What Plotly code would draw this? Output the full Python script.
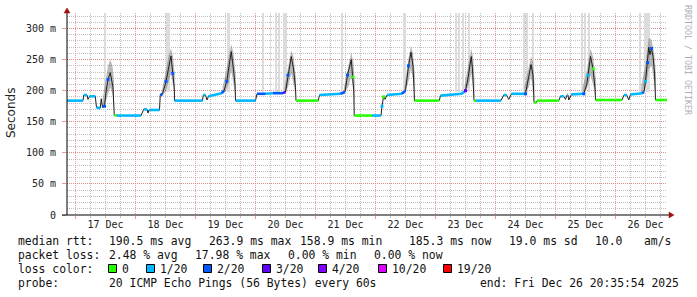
import plotly.graph_objects as go

# ---------------- data (hours since 17 Dec 2025 00:00) ----------------
hours = [-3.4, 3.0, 3.3, 4.6, 5.0, 5.6, 7.9, 8.4, 9.9, 10.3, 10.8, 11.6, 12.2, 13.0, 13.9, 15.0, 15.5, 16.5,
         26.2, 27.3, 28.6, 29.0, 29.4, 33.6, 33.9, 34.8, 36.2, 37.3, 38.2, 38.9, 39.5, 39.6,
         50.8, 51.1, 52.0, 52.6, 53.2, 58.5, 59.4, 60.5, 61.3, 62.3, 63.3, 63.8, 64.0,
         72.0, 72.6, 76.0, 79.0, 83.0, 84.0, 85.0, 86.3, 87.2, 88.0, 88.2,
         97.1, 97.6, 106.0, 107.8, 108.8, 110.3, 110.9, 111.3, 111.5, 118.6,
         122.2, 122.6, 123.2, 123.8, 124.6, 130.5, 132.0, 133.2, 134.2, 135.0, 135.4, 135.6,
         145.5, 146.0, 154.5, 156.0, 157.0, 158.3, 158.8, 159.2, 159.4, 160.2,
         170.2, 171.3, 172.4, 173.3, 174.4, 180.0, 181.3, 182.2, 183.0, 183.4, 184.4, 184.6,
         193.3, 194.0, 195.3, 196.0, 196.6, 197.0, 197.3, 198.4, 203.3, 204.5, 205.0, 206.0, 207.0, 207.8, 208.0,
         218.6, 219.4, 220.5, 221.3, 222.0, 226.7, 227.4, 228.0, 228.8, 229.3, 229.8, 230.4, 231.0, 231.6, 232.0, 236.6]
median_ms = [184, 184, 193, 193, 186, 191, 191, 173, 172, 187, 173, 175, 198, 218, 229, 205, 161, 160,
             160, 170, 170, 164, 169, 169, 193, 195, 215, 240, 256, 228, 205, 184,
             184, 193, 193, 185, 191, 196, 200, 215, 235, 263, 230, 210, 184,
             184, 195, 195, 196, 196, 198, 225, 255, 235, 205, 184,
             184, 193, 195, 198, 225, 250, 222, 200, 160, 160,
             160, 175, 190, 186, 193, 195, 200, 240, 262, 240, 210, 184,
             184, 192, 195, 200, 220, 255, 235, 200, 184, 184,
             184, 193, 193, 186, 195, 195, 220, 242, 225, 181, 181, 184,
             184, 191, 191, 186, 193, 193, 185, 194, 195, 210, 225, 255, 235, 205, 185,
             185, 193, 193, 185, 194, 196, 198, 215, 245, 270, 258, 268, 255, 230, 185, 185]
# loss level of the segment starting at each point (-1: no loss colour drawn)
loss_lvl = [1, -1, 1, -1, -1, 1, -1, 1, -1, -1, -1, 2, -1, 2, -1, -1, 0, 1,
            -1, 1, -1, -1, 1, -1, 2, -1, 2, -1, -1, 2, -1, 1,
            -1, 1, -1, -1, 1, 2, -1, 2, -1, -1, -1, -1, 1,
            -1, 2, 1, 2, 3, -1, 2, -1, -1, -1, 0,
            -1, 1, 2, -1, 2, -1, 0, -1, 0, 1,
            -1, 1, 0, -1, 1, 2, -1, 2, -1, -1, -1, 0,
            -1, 1, 1, 3, -1, -1, -1, -1, 0, 1,
            -1, 1, -1, -1, 1, 2, -1, -1, -1, 0, -1, 0,
            -1, 1, -1, -1, 1, -1, -1, 1, 2, -1, 1, -1, 0, -1, 0,
            -1, 1, -1, -1, 1, 2, -1, 1, 2, -1, -1, 2, -1, -1, 0, 0]

# smoke around daily peaks (None separates peaks)
smoke_h = [10.8, 12.0, 13.0, 13.9, 14.8, 15.4, None,
           34.5, 36.0, 37.3, 38.2, 39.0, 39.7, None,
           58.8, 60.3, 61.4, 62.3, 63.2, 64.1, None,
           83.6, 85.0, 86.3, 87.2, 88.2, None,
           107.4, 109.0, 110.3, 111.2, 111.7, None,
           131.6, 133.2, 134.2, 135.0, 135.8, None,
           155.6, 157.0, 158.3, 159.0, 159.6, None,
           179.6, 181.3, 182.2, 183.0, 183.6, None,
           202.9, 204.5, 206.0, 207.0, 208.2, None,
           226.3, 228.0, 229.3, 230.4, 231.6, 232.2]
smoke_lo = [175, 180, 195, 205, 195, 170, None,
            190, 198, 215, 228, 210, 190, None,
            195, 200, 215, 232, 212, 190, None,
            196, 205, 228, 212, 190, None,
            196, 205, 222, 200, 175, None,
            196, 215, 235, 218, 188, None,
            197, 205, 228, 210, 188, None,
            196, 205, 222, 205, 182, None,
            196, 202, 225, 210, 188, None,
            196, 205, 235, 240, 210, 188]
smoke_hi = [185, 215, 240, 250, 240, 215, None,
            200, 228, 258, 268, 255, 225, None,
            205, 232, 258, 275, 260, 225, None,
            206, 240, 265, 255, 220, None,
            206, 240, 262, 245, 215, None,
            206, 252, 272, 260, 222, None,
            208, 238, 268, 255, 218, None,
            206, 235, 255, 245, 212, None,
            206, 232, 268, 255, 218, None,
            208, 242, 285, 282, 258, 222]

# single pings off the scale (light gray columns)
spike_h = [11.8, 36.8, 61.0, 75.0, 78.0, 80.3, 81.3, 83.5, 84.2, 106.5, 131.5, 152.3, 153.3, 155.0,
           157.4, 179.5, 180.6, 183.0, 202.5, 203.9, 205.6, 225.7, 228.6]
spike_w = [1.0, 1.6, 1.2, 0.4, 0.4, 0.4, 0.4, 0.5, 0.4, 1.0, 1.2, 0.4, 0.4, 0.9,
           1.0, 0.4, 0.4, 0.4, 0.9, 0.7, 0.6, 0.4, 2.6]

day_ticks = [12, 36, 60, 84, 108, 132, 156, 180, 204, 228]
day_labels = ["17 Dec", "18 Dec", "19 Dec", "20 Dec", "21 Dec", "22 Dec", "23 Dec", "24 Dec", "25 Dec", "26 Dec"]
y_ticks = [0, 50, 100, 150, 200, 250, 300]
y_labels = ["0", "50 m", "100 m", "150 m", "200 m", "250 m", "300 m"]

loss_levels = [0, 1, 2, 3, 4, 10, 19]
loss_names = ["0", "1/20", "2/20", "3/20", "4/20", "10/20", "19/20"]
loss_colors = ["#26ff00", "#00b8ff", "#0059ff", "#5e00ff", "#7e00ff", "#dd00ff", "#ff0000"]

stats_line1 = ["median rtt:", "190.5 ms avg", "263.9 ms max", "158.9 ms min", "185.3 ms now", "19.0 ms sd", "10.0", "am/s"]
stats_line2 = ["packet loss:", "2.48 % avg", "17.98 % max", "0.00 % min", "0.00 % now"]
probe_text = ["probe:", "20 ICMP Echo Pings (56 Bytes) every 60s", "end: Fri Dec 26 20:35:54 2025"]

# ---------------- layout geometry ----------------
W, H = 697, 297
L, R, T, B = 67, 30, 13, 82
PW, PH = W - L - R, H - T - B
X0, X1 = -3.4, 236.6
Y0, Y1 = 0, 325
PX_PER_H = PW / (X1 - X0)
PX_PER_MS = PH / (Y1 - Y0)


def px(x):
    return (x - L) / PW


def py(y):
    return (H - B - y) / PH


MONO = "DejaVu Sans Mono"
fig = go.Figure()

# spikes
top = Y1 + 10
spike_base = 198
fig.add_trace(go.Bar(x=spike_h, y=[top - spike_base] * len(spike_h), base=spike_base, width=spike_w,
                     marker=dict(color="#dcdcdc", line=dict(width=0)), xaxis="x", yaxis="y",
                     hoverinfo="skip", showlegend=False))

# smoke polygons
sx, sy = [], []
seg_h, seg_lo, seg_hi = [], [], []
for h, lo, hi in list(zip(smoke_h, smoke_lo, smoke_hi)) + [(None, None, None)]:
    if h is None:
        if seg_h:
            sx += seg_h + seg_h[::-1] + [None]
            sy += seg_hi + seg_lo[::-1] + [None]
        seg_h, seg_lo, seg_hi = [], [], []
    else:
        seg_h.append(h); seg_lo.append(lo); seg_hi.append(hi)
fig.add_trace(go.Scatter(x=sx, y=sy, fill="toself", fillcolor="rgba(90,90,90,0.42)",
                         line=dict(width=0), mode="lines", hoverinfo="skip", showlegend=False))

# black median line
fig.add_trace(go.Scatter(x=hours, y=median_ms, mode="lines", line=dict(color="#202020", width=1),
                         xaxis="x2", yaxis="y", hoverinfo="skip", showlegend=False))

# loss coloured median: flat segments as thick strokes, steep ones as small blocks
for lvl, col in zip(loss_levels, loss_colors):
    xs, ys, mx, my = [], [], [], []
    for i in range(len(hours) - 1):
        if loss_lvl[i] != lvl:
            continue
        dx = (hours[i + 1] - hours[i]) * PX_PER_H
        dy = abs(median_ms[i + 1] - median_ms[i]) * PX_PER_MS
        if dy > 1.5 * dx:
            mx.append(hours[i]); my.append(median_ms[i])
        else:
            xs += [hours[i], hours[i + 1], None]
            ys += [median_ms[i], median_ms[i + 1], None]
    if xs:
        fig.add_trace(go.Scatter(x=xs, y=ys, mode="lines", line=dict(color=col, width=2.6),
                                 xaxis="x2", yaxis="y", hoverinfo="skip", showlegend=False))
    if mx:
        fig.add_trace(go.Scatter(x=mx, y=my, mode="markers",
                                 marker=dict(color=col, size=3, symbol="square", line=dict(width=0)),
                                 xaxis="x2", yaxis="y", hoverinfo="skip", showlegend=False))

RED_GRID = "rgba(230,120,120,0.75)"
GRAY_GRID = "rgba(170,170,170,0.75)"
fig.update_layout(
    width=W, height=H, margin=dict(l=L, r=R, t=T, b=B, pad=0),
    paper_bgcolor="white", plot_bgcolor="white", showlegend=False,
    font=dict(family=MONO, size=10, color="#222"),
    bargap=0,
    xaxis=dict(range=[X0, X1], tickmode="linear", tick0=0, dtick=24, showticklabels=False,
               showgrid=True, gridcolor=RED_GRID, griddash="1px,1px", gridwidth=1,
               ticks="outside", ticklen=3, tickcolor=RED_GRID, zeroline=False, showline=False,
               minor=dict(tickmode="linear", tick0=0, dtick=6, showgrid=True, gridcolor=GRAY_GRID,
                          griddash="1px,1px", ticks="outside", ticklen=2, tickcolor=GRAY_GRID)),
    xaxis2=dict(range=[X0, X1], overlaying="x", side="bottom", anchor="y", tickmode="array",
                tickvals=day_ticks, ticktext=day_labels, showgrid=False, zeroline=False,
                showline=False, ticks="", ticklabelstandoff=2,
                tickfont=dict(family=MONO, size=10, color="#222")),
    yaxis=dict(range=[Y0, Y1], tickmode="array", tickvals=y_ticks, ticktext=y_labels,
               showgrid=True, gridcolor=RED_GRID, griddash="1px,1px", zeroline=False, showline=False,
               ticks="outside", ticklen=4, tickcolor=RED_GRID, ticklabelstandoff=4,
               tickfont=dict(family=MONO, size=10, color="#222"),
               minor=dict(tickmode="linear", tick0=0, dtick=10, showgrid=True, gridcolor=GRAY_GRID,
                          griddash="1px,1px")),
)

shapes = []
# axes lines
shapes.append(dict(type="line", xref="paper", yref="paper", x0=px(67), x1=px(67), y0=py(215), y1=py(12),
                   line=dict(color="#000", width=1)))
shapes.append(dict(type="line", xref="paper", yref="paper", x0=px(62), x1=px(670), y0=py(215), y1=py(215),
                   line=dict(color="#000", width=1)))
# arrows
ARROW = "#a01010"
shapes.append(dict(type="path", xref="paper", yref="paper",
                   path=f"M {px(64)} {py(13)} L {px(70)} {py(13)} L {px(67)} {py(8)} Z",
                   fillcolor=ARROW, line=dict(color=ARROW, width=0.5)))
shapes.append(dict(type="path", xref="paper", yref="paper",
                   path=f"M {px(669)} {py(212)} L {px(669)} {py(218)} L {px(674)} {py(215)} Z",
                   fillcolor=ARROW, line=dict(color=ARROW, width=0.5)))

ann = []
ann.append(dict(text="Seconds", x=px(11), y=py(113), xref="paper", yref="paper", textangle=-90,
                showarrow=False, font=dict(family="DejaVu Sans", size=12, color="#222"),
                xanchor="center", yanchor="middle"))
ann.append(dict(text="RRDTOOL / TOBI OETIKER", x=px(688), y=py(60), xref="paper", yref="paper",
                textangle=90, showarrow=False, font=dict(family=MONO, size=8.3, color="#b0b0b0"),
                xanchor="center", yanchor="middle"))


def put(text, x, y, size=11.4):
    ann.append(dict(text=text, x=px(x), y=py(y), xref="paper", yref="paper", showarrow=False,
                    xanchor="left", yanchor="middle", font=dict(family=MONO, size=size, color="#111")))


for t, x in zip(stats_line1, [16, 107, 207, 298, 407, 507, 593, 642]):
    put(t, x, 241)
for t, x in zip(stats_line2, [16, 107, 193, 286, 372]):
    put(t, x, 255)
put("loss color:", 16, 268.5)
sq_x = [108.5, 146.5, 203.5, 262.5, 318.5, 378.5, 443.5]
for name, col, x in zip(loss_names, loss_colors, sq_x):
    shapes.append(dict(type="rect", xref="paper", yref="paper", x0=px(x), x1=px(x + 8),
                       y0=py(272.5), y1=py(264.5), fillcolor=col, line=dict(color="#000", width=1)))
    put(name, x + 11, 268.5)
for t, x in zip(probe_text, [16, 107, 478]):
    put(t, x, 282.5)

fig.update_layout(shapes=shapes, annotations=ann)
fig.write_html("out.html")
